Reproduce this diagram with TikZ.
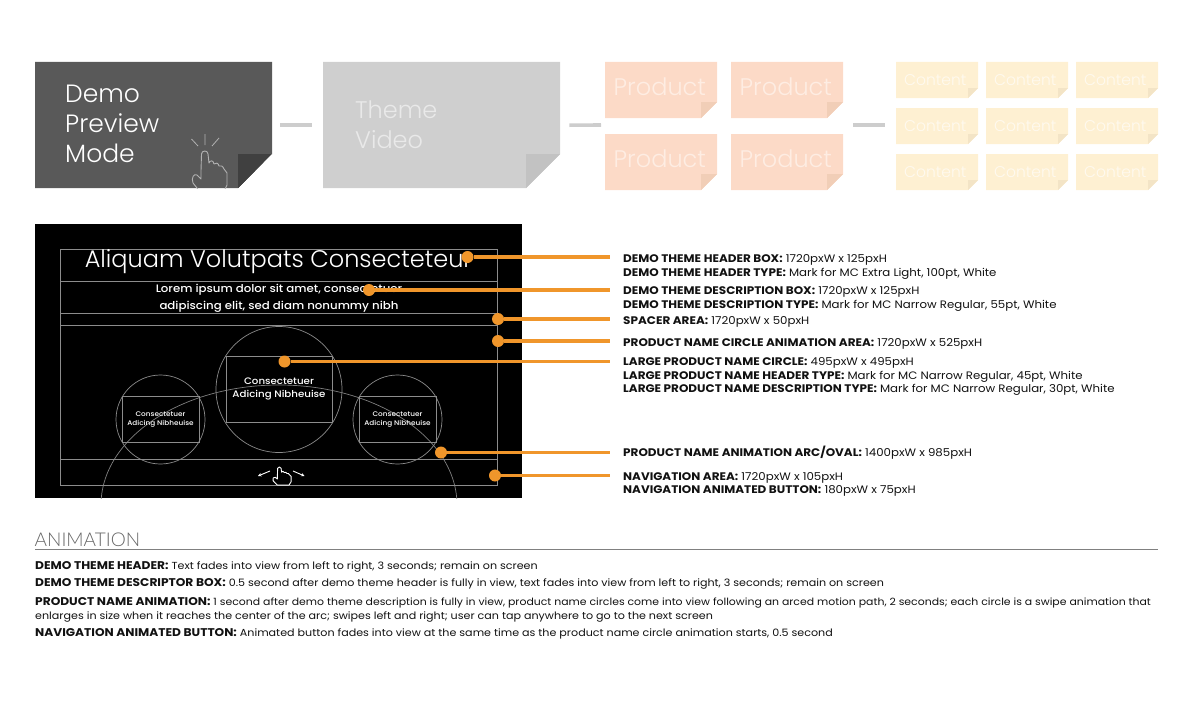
\documentclass[tikz,border=0pt]{standalone}
\usepackage{fontspec}
\setmainfont{Poppins}[FakeStretch=1.09]
\newfontfamily\lightf{Poppins Light}
\newfontfamily\medf{Poppins Medium}[FakeStretch=1.09]
\newfontfamily\headf{Lato Light}
\usetikzlibrary{arrows.meta,calc}
\newcommand{\specb}[1]{{\bfseries\fontsize{11}{12}\selectfont #1}}
\newcommand{\animb}[1]{{\bfseries\fontsize{11.2}{12}\selectfont #1}}
\definecolor{orng}{HTML}{F0962B}
\definecolor{barc}{HTML}{CDCDCD}
\definecolor{framec}{HTML}{8C8C8C}
\definecolor{txt}{HTML}{111111}
\definecolor{pfill}{HTML}{FCDAC7}
\definecolor{pfold}{HTML}{F1CEB7}
\definecolor{ptext}{HTML}{FEEDE3}
\definecolor{cfill}{HTML}{FEF0D2}
\definecolor{cfold}{HTML}{F3E4C6}
\definecolor{ctext}{HTML}{FFFAF0}
\tikzset{
  x=1pt,y=-1pt,
  frameline/.style={draw=framec,line width=0.8pt},
  thinline/.style={draw=framec!90!black,line width=0.7pt},
  barline/.style={draw=barc,line width=3.6pt},
  leader/.style={draw=orng,line width=3.2pt},
  dotn/.style={circle,fill=orng,inner sep=0pt,minimum size=12pt},
  spec/.style={anchor=west,inner sep=0pt,font=\fontsize{10.8}{12}\selectfont,text=txt},
  anim/.style={anchor=west,inner sep=0pt,font=\fontsize{10.2}{12}\selectfont,text=txt},
  scr/.style={inner sep=0pt,text=white,align=center},
  handicon/.pic={
    \draw[pic actions,line width=0.9pt,line join=round]
      (-4,20) -- (-3.5,3) .. controls (-3.2,-1) and (2.8,-1) .. (3,3) -- (4,12)
      .. controls (5,9) and (8.5,9) .. (9,13) .. controls (10.5,11) and (13.5,12) .. (14,15)
      .. controls (15.5,14) and (18,15) .. (19,18) -- (22,22) -- (22,34)
      -- (18,42) -- (-4,42) -- (-12,32) .. controls (-14,27) and (-11,22) .. (-8,24) -- (-4,28) -- cycle;
  },
}
\newcommand{\sticky}[8]{%
  \fill[#7] (#2,#3) -- (#4,#3) -- (#4,#5-#6) -- (#4-#6,#5) -- (#2,#5) -- cycle;
  \fill[#8] (#4,#5-#6) -- (#4-#6,#5-#6) -- (#4-#6,#5) -- cycle;
  \node[inner sep=0pt,anchor=north west,minimum width={(#4-#2)*1pt},minimum height={(#5-#3)*1pt}] (#1) at (#2,#3) {};
}
\begin{document}
\begin{tikzpicture}
\useasboundingbox (0,0) rectangle (1201,701);
% top row
\sticky{demo}{35}{62}{272}{188}{34}{black!65}{black!75}
\sticky{theme}{323}{62}{560}{188}{34}{black!19}{black!24}
\node[anchor=north west,inner sep=0pt,text=white,align=left,font=\lightf\fontsize{25}{30}\selectfont] (demot) at (65,84.5) {Demo\\Preview\\Mode};
\node[anchor=north west,inner sep=0pt,text=white!55!black!19,align=left,font=\lightf\fontsize{24}{30}\selectfont] (themet) at (355,101) {Theme\\Video};
\begin{scope}
  \clip (35,62) rectangle (272,188);
  \path (205,151) pic[draw=black!30] {handicon};
\end{scope}
\draw[black!30,line width=0.8pt] (205,134) -- (205,145) (191.5,139) -- (198,146) (219,138) -- (212,146);
% re-draw corner so the hand stays behind the fold edge
\fill[black!75] (272,154) -- (238,154) -- (238,188) -- cycle;
\fill[white] (272,154) -- (272,189) -- (238,189) -- cycle;

\foreach \nm/\xa/\ya in {p1/605/62,p2/731/62,p3/605/134,p4/731/134}{
  \sticky{\nm}{\xa}{\ya}{\xa+112}{\ya+56}{16}{pfill}{pfold}
}
\foreach \nm/\xa/\ya in {c1/896/62,c2/986/62,c3/1076/62,c4/896/108,c5/986/108,c6/1076/108,c7/896/154,c8/986/154,c9/1076/154}{
  \sticky{\nm}{\xa}{\ya}{\xa+82}{\ya+36}{10}{cfill}{cfold}
}
\foreach \nm in {p1,p2,p3,p4}{
  \node[anchor=west,inner sep=0pt,text=ptext,font=\lightf\fontsize{24}{28}\selectfont] (\nm t) at ([xshift=8.5pt,yshift=3pt]\nm.west) {Product};
}
\foreach \nm in {c1,c2,c3,c4,c5,c6,c7,c8,c9}{
  \node[anchor=west,inner sep=0pt,text=ctext,font=\lightf\fontsize{15.5}{18}\selectfont] (\nm t) at ([xshift=8pt,yshift=0pt]\nm.west) {Content};
}
\coordinate (pe) at (601,125);
\coordinate (ps) at (853,125);
\coordinate (cs) at (885,125);
\draw[barline] ([xshift=8pt]demo.east) -- ([xshift=-11pt]theme.west);
\draw[barline] ([xshift=9pt]theme.east) -- (pe);
\draw[barline] (ps) -- (cs);

% screen
\fill[black] (35,224) rectangle (522,498);
\begin{scope}
  \clip (35,224) rectangle (522,498);
  \draw[thinline] (279,505) ellipse [x radius=178,y radius=120];
\end{scope}
\draw[frameline] (60,249) rectangle (497,485);
\foreach \yy in {281,313,325,459}{\draw[frameline] (60,\yy) -- (497,\yy);}
\node[draw=framec,line width=0.7pt,circle,inner sep=0pt,minimum size=126pt] (bigc) at (279,389.5) {};
\node[draw=framec,line width=0.7pt,circle,inner sep=0pt,minimum size=89pt] (leftc) at (160.5,419.5) {};
\node[draw=framec,line width=0.7pt,circle,inner sep=0pt,minimum size=89pt] (rightc) at (397.5,419.5) {};
\draw[frameline] (226,356) rectangle (332,422);
\draw[frameline] (122,396) rectangle (199,442);
\draw[frameline] (359,396) rectangle (436,442);
\node[scr,font=\lightf\fontsize{24}{28}\selectfont] (title) at (278.5,262) {Aliquam Volutpats Consecteteur};
\node[scr,font=\medf\fontsize{10.8}{17}\selectfont] (desc) at (279,298) {Lorem ipsum dolor sit amet, consectetuer\\adipiscing elit, sed diam nonummy nibh};
\node[scr,font=\medf\fontsize{9.4}{13}\selectfont] (bigt) at (279,389) {Consectetuer\\Adicing Nibheuise};
\node[scr,font=\medf\fontsize{6.7}{9}\selectfont] (leftt) at (160.5,420) {Consectetuer\\Adicing Nibheuise};
\node[scr,font=\medf\fontsize{6.7}{9}\selectfont] (rightt) at (397.5,420) {Consectetuer\\Adicing Nibheuise};
% nav hand
\path (279.5,467) pic[draw=white,fill=black,xscale=0.53,yscale=0.43] {handicon};
\coordinate (la) at (270,471); \coordinate (lb) at (258,476);
\coordinate (ra) at (293,471); \coordinate (rb) at (304.5,476);
\draw[white,line width=0.9pt,-{Stealth[length=3.5pt,width=3.5pt]}] (la) -- (lb);
\draw[white,line width=0.9pt,-{Stealth[length=3.5pt,width=3.5pt]}] (ra) -- (rb);

% leaders
\foreach \nm/\xa/\ya in {d1/467.5/257,d2/369/290,d3/498/319,d4/498/341,d5/284.5/361.5,d6/441/452.5,d7/495/475.5}{
  \node[dotn] (\nm) at (\xa,\ya) {};
  \coordinate (e\nm) at (610,\ya);
  \draw[leader] (\nm) -- (e\nm);
}
% spec labels
\node[spec] (s1) at (623,259.5) {\specb{DEMO THEME HEADER BOX:} 1720pxW x 125pxH};
\node[spec] (s2) at (623,273.5) {\specb{DEMO THEME HEADER TYPE:} Mark for MC Extra Light, 100pt, White};
\node[spec] (s3) at (623,291.5) {\specb{DEMO THEME DESCRIPTION BOX:} 1720pxW x 125pxH};
\node[spec] (s4) at (623,305.5) {\specb{DEMO THEME DESCRIPTION TYPE:} Mark for MC Narrow Regular, 55pt, White};
\node[spec] (s5) at (623,321.5) {\specb{SPACER AREA:} 1720pxW x 50pxH};
\node[spec] (s6) at (623,343.5) {\specb{PRODUCT NAME CIRCLE ANIMATION AREA:} 1720pxW x 525pxH};
\node[spec] (s7) at (623,362.5) {\specb{LARGE PRODUCT NAME CIRCLE:} 495pxW x 495pxH};
\node[spec] (s8) at (623,376.5) {\specb{LARGE PRODUCT NAME HEADER TYPE:} Mark for MC Narrow Regular, 45pt, White};
\node[spec] (s9) at (623,389.5) {\specb{LARGE PRODUCT NAME DESCRIPTION TYPE:} Mark for MC Narrow Regular, 30pt, White};
\node[spec] (s10) at (623,453) {\specb{PRODUCT NAME ANIMATION ARC/OVAL:} 1400pxW x 985pxH};
\node[spec] (s11) at (623,477.5) {\specb{NAVIGATION AREA:} 1720pxW x 105pxH};
\node[spec] (s12) at (623,491) {\specb{NAVIGATION ANIMATED BUTTON:} 180pxW x 75pxH};

% animation
\node[anchor=west,inner sep=0pt,text=black!60,font=\headf\fontsize{19}{22}\selectfont] (animh) at (34.5,539.5) {ANIMATION};
\coordinate (ra1) at (35,549.5); \coordinate (ra2) at (1158,549.5);
\draw[draw=black!50,line width=1pt] (ra1) -- (ra2);
\node[anim] (a1) at (35,566.5) {\animb{DEMO THEME HEADER:} Text fades into view from left to right, 3 seconds; remain on screen};
\node[anim] (a2) at (35,583.5) {\animb{DEMO THEME DESCRIPTOR BOX:} 0.5 second after demo theme header is fully in view, text fades into view from left to right, 3 seconds; remain on screen};
\node[anim,font=\fontsize{10}{12}\selectfont] (a3) at (35,602.5) {\animb{PRODUCT NAME ANIMATION:} 1 second after demo theme description is fully in view, product name circles come into view following an arced motion path, 2 seconds; each circle is a swipe animation that};
\node[anim] (a4) at (35,616.5) {enlarges in size when it reaches the center of the arc; swipes left and right; user can tap anywhere to go to the next screen};
\node[anim] (a5) at (35,634) {\animb{NAVIGATION ANIMATED BUTTON:} Animated button fades into view at the same time as the product name circle animation starts, 0.5 second};
\end{tikzpicture}
\end{document}
